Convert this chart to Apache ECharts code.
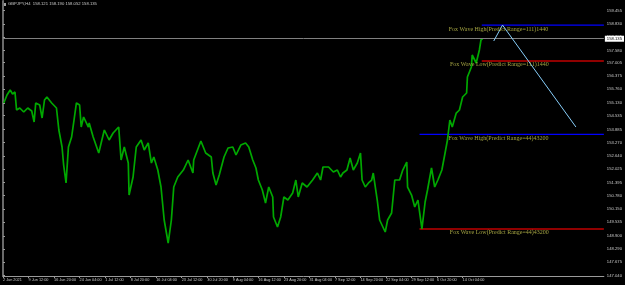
<!DOCTYPE html>
<html><head><meta charset="utf-8">
<script src="https://cdn.jsdelivr.net/npm/echarts@6/dist/echarts.min.js"></script>
<style>html,body{margin:0;padding:0;background:#000;}#c{width:625px;height:285px;}</style>
</head><body><div id="c"></div>
<script>
// ---- data ----
const xLabels = ['2 Jun 2021','9 Jun 12:00','16 Jun 20:00','24 Jun 04:00','1 Jul 12:00','8 Jul 20:00','16 Jul 04:00','23 Jul 12:00','30 Jul 20:00','9 Aug 04:00','16 Aug 12:00','23 Aug 20:00','31 Aug 04:00','7 Sep 12:00','14 Sep 20:00','22 Sep 04:00','29 Sep 12:00','6 Oct 20:00','14 Oct 04:00'];
const barsPerLabel = 32;
const yTickLabels = ['159.455','158.830','158.205','157.580','157.005','156.375','155.760','155.130','154.535','153.885','153.270','152.640','152.025','151.395','150.780','150.150','149.535','148.900','148.290','147.675','147.040'];
const bars = [1,5,9,12,15,17,21,26,31,36,39,41,46,49,52,55,61,67,70,74,76,79,82,86,89,92,96,98,101,107,108,113,120,123,127,133,138,145,148,152,157,158,163,167,173,177,182,186,189,194,198,202,207,211,214,219,226,232,238,239,248,254,261,263,267,271,277,282,288,292,298,304,308,313,317,320,325,329,333,338,339,344,348,352,357,363,367,370,375,381,388,394,398,401,408,414,419,423,426,431,435,439,444,448,450,454,458,462,464,469,472,479,482,487,491,497,501,506,507,512,516,520,525,529,532,537,541,545,550,554,557,560,563,568,572,576,581,582,587,588,593,597,599,601];
const prices = [155.120,155.494,155.728,155.541,155.635,154.792,154.885,154.698,154.885,154.745,154.230,155.120,155.026,154.417,155.260,155.401,155.120,154.885,153.855,153.059,152.216,151.373,153.059,153.527,154.323,155.120,155.026,153.995,154.464,153.995,154.183,153.527,152.778,153.246,153.855,153.387,153.714,153.995,152.450,153.059,152.309,150.810,151.654,153.059,153.387,152.918,153.246,152.309,152.590,151.981,151.185,149.640,148.562,149.640,151.185,151.654,151.981,152.450,151.841,152.450,153.340,152.778,152.590,151.841,151.279,151.747,152.590,153.012,153.059,152.684,153.152,153.246,153.059,152.450,152.075,151.513,151.045,150.436,151.185,150.717,149.780,149.312,149.780,150.717,150.576,150.904,151.513,150.717,151.373,151.185,151.513,151.841,151.513,152.122,152.122,151.888,151.981,151.654,151.841,151.981,152.544,151.981,152.309,152.778,151.513,151.185,151.373,151.513,151.841,150.576,149.640,149.078,149.640,149.967,151.513,151.513,151.981,152.356,151.185,150.810,150.248,150.576,149.220,150.483,151.045,152.075,151.185,151.513,151.981,152.778,153.387,154.323,153.995,154.651,154.792,155.401,155.588,156.337,156.806,157.368,156.993,157.602,158.070,158.135];
const bidPrice = 158.135;
const titleText = 'GBPJPY,H4  158.121 158.190 158.052 158.135';
// fox wave levels: [startBar, price]
const foxHigh1440 = [600, 158.770];
const foxLow1440 = [600, 157.087];
const foxHigh43200 = [522, 153.654];
const foxLow43200 = [522, 149.218];
const lastBar = 753;
// trend line (light blue)
const trendBars = [615, 626, 718];
const trendPrices = [158.023, 158.770, 153.995];
// text annotations
const noteBars = [621, 622, 621, 622];
const notePrices = [158.585, 156.946, 153.480, 149.078];
const noteTexts = ['Fox Wave High(Predict Range=111)1440','Fox Wave Low(Predict Range=111)1440','Fox Wave High(Predict Range=44)43200','Fox Wave Low(Predict Range=44)43200'];

const chart = echarts.init(document.getElementById('c'), null, {renderer:'canvas'});
const axisFont = {fontFamily:'Liberation Sans', fontSize:3.8, color:'#c8c8c8'};
function hline(start, color){
  return {type:'line', data:[[start[0], start[1]],[lastBar, start[1]]], showSymbol:false, symbol:'none',
    lineStyle:{color:color, width:1.3}, silent:true, z:3};
}
const xTickVals = xLabels.map((_, i) => i * barsPerLabel);
chart.setOption({
  backgroundColor:'#000',
  animation:false,
  grid:{left:1, right:20, top:1, bottom:9},
  xAxis:{type:'value', min:0, max:lastBar,
    axisLine:{lineStyle:{color:'#9a9a9a', width:1}},
    axisTick:{show:true, length:2, lineStyle:{color:'#9a9a9a'}, customValues:xTickVals},
    axisLabel:Object.assign({align:'left', margin:2, customValues:xTickVals,
      formatter:(v)=>{const i=Math.round(v/barsPerLabel); return xLabels[i]||'';}}, axisFont),
    splitLine:{show:false}},
  yAxis:[{type:'value', position:'right', min:147.017, max:159.897, scale:true,
    axisLine:{show:true, lineStyle:{color:'#9a9a9a', width:1}},
    axisTick:{show:true, length:2, lineStyle:{color:'#9a9a9a'}, customValues:yTickLabels.map(Number)},
    axisLabel:Object.assign({margin:3, customValues:yTickLabels.map(Number),
      formatter:(v)=>{const s=yTickLabels.find(t=>Math.abs(Number(t)-v)<1e-6); return s||v.toFixed(3);}}, axisFont, {fontSize:4.2}),
    splitLine:{show:false}},
   {type:'value', position:'left', min:147.017, max:159.897,
    axisLine:{show:true, lineStyle:{color:'#6a6a6a', width:2}},
    axisTick:{show:false}, axisLabel:{show:false}, splitLine:{show:false}}],
  graphic:[
    {type:'rect', left:3, top:3, shape:{width:3, height:3}, style:{fill:'#a0a0a0'}},
    {type:'text', left:8, top:2, style:{text:titleText, fill:'#c8c8c8', font:'4.2px "Liberation Sans"'}}
  ],
  series:[
    {type:'line', data:bars.map((b,i)=>[b, prices[i]]), showSymbol:false, symbol:'none',
      lineStyle:{color:'#00a800', width:1.7}, z:4,
      markLine:{silent:true, symbol:'none', data:[{yAxis:bidPrice}],
        lineStyle:{color:'#808080', type:'solid', width:1},
        label:{show:true, position:'end', formatter:bidPrice.toFixed(3), color:'#000', backgroundColor:'#fff',
          fontFamily:'Liberation Sans', fontSize:4.2, padding:[1,2], distance:1}}},
    hline(foxHigh1440, '#0000ff'),
    hline(foxLow1440, '#c00000'),
    hline(foxHigh43200, '#0000ff'),
    hline(foxLow43200, '#c00000'),
    {type:'line', data:trendBars.map((b,i)=>[b, trendPrices[i]]), showSymbol:false, symbol:'none',
      lineStyle:{color:'#87cefa', width:1}, z:5},
    {type:'scatter', symbolSize:0, z:6,
      data:noteBars.map((b,i)=>({value:[b, notePrices[i]], name:noteTexts[i]})),
      label:{show:true, position:'inside', formatter:(p)=>p.name, color:'#c8c850',
        fontFamily:'Liberation Serif', fontSize:6}}
  ]
});
</script></body></html>
